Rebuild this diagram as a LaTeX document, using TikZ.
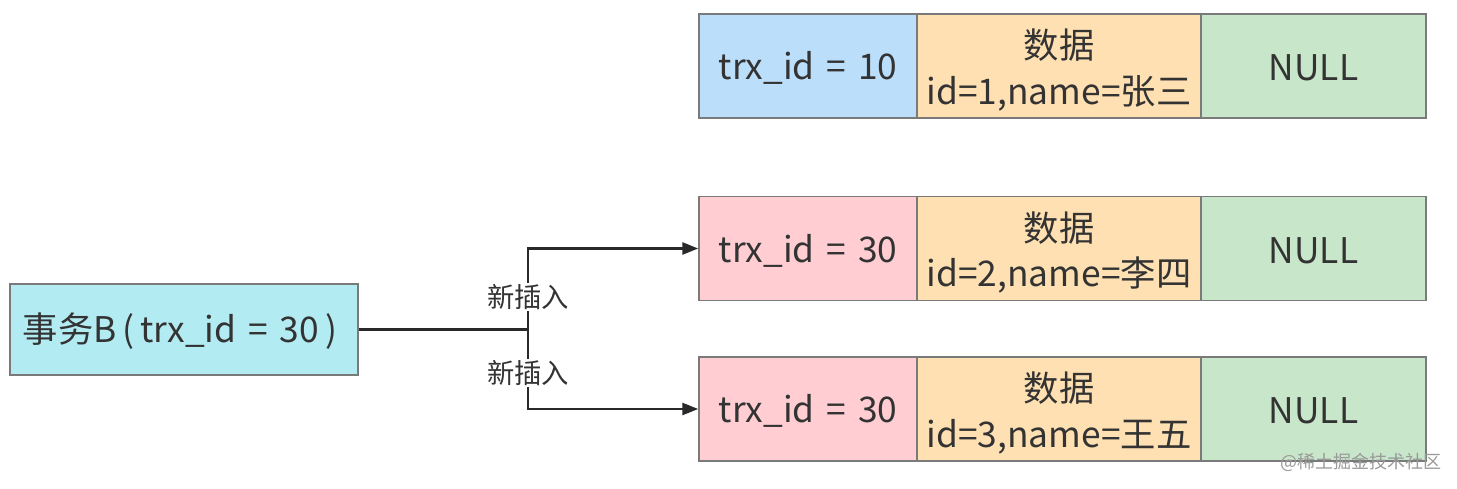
\documentclass[tikz,border=0pt]{standalone}
\usepackage{fontspec}
\setmainfont[WordSpace=1.5]{Noto Sans CJK SC}
\usetikzlibrary{arrows.meta}
\definecolor{txt}{HTML}{333333}
\definecolor{bd}{HTML}{7A7A7A}
\definecolor{cblue}{HTML}{BBDEFB}
\definecolor{corange}{HTML}{FFE0B2}
\definecolor{cgreen}{HTML}{C8E6C9}
\definecolor{cpink}{HTML}{FFCDD2}
\definecolor{ccyan}{HTML}{B2EBF2}
\tikzset{
  celltext/.style={text=txt, font=\fontsize{26.5}{34}\selectfont, align=center, inner sep=0pt, yshift=-1.5pt},
  cell/.style={draw=bd, line width=1.1pt, inner sep=0pt, minimum height=78pt},
  idcell/.style={cell, minimum width=163.5pt},
  datacell/.style={cell, minimum width=213pt, fill=corange},
  nullcell/.style={cell, minimum width=168.75pt, fill=cgreen},
  conn/.style={draw=txt!80!black, line width=2pt},
  arr/.style={conn, -{Triangle[length=12pt,width=9pt]}},
  lbl/.style={font=\fontsize{20.5}{24}\selectfont, text=txt, fill=white, inner sep=1pt},
}
\begin{document}
\begin{tikzpicture}[x=0.75pt,y=-0.75pt]
\useasboundingbox (0,0) rectangle (1457,489);
% row 1
\node[idcell, fill=cblue, label={[celltext]center:trx\_id = 10}] (r1a) at (808,66) {};
\node[datacell, label={[celltext, yshift=-1.5pt]center:数据\\id=1,name=张三}] (r1b) at (1059,66) {};
\node[nullcell, label={[celltext]center:NULL}] (r1c) at (1313.5,66) {};
% row 2
\node[idcell, fill=cpink, label={[celltext]center:trx\_id = 30}] (r2a) at (808,248.5) {};
\node[datacell, label={[celltext, yshift=-1.5pt]center:数据\\id=2,name=李四}] (r2b) at (1059,248.5) {};
\node[nullcell, label={[celltext]center:NULL}] (r2c) at (1313.5,248.5) {};
% row 3
\node[idcell, fill=cpink, label={[celltext]center:trx\_id = 30}] (r3a) at (808,409) {};
\node[datacell, label={[celltext, yshift=-1.5pt]center:数据\\id=3,name=王五}] (r3b) at (1059,409) {};
\node[nullcell, label={[celltext]center:NULL}] (r3c) at (1313.5,409) {};
% transaction
\node[cell, fill=ccyan, minimum width=261pt, minimum height=68.25pt,
  label={[celltext, xshift=-3pt]center:事务B\,(\,trx\_id = 30\,)}] (tb) at (184,329.5) {};
\coordinate (j) at (528,329.5);
\draw[conn] (tb.east) -- (j);
\draw[arr] (j) |- (r2a.west);
\draw[arr] (j) |- (r3a.west);
\node[lbl] (l1) at (528,297) {新插入};
\node[lbl] (l2) at (528,373) {新插入};
% watermark
\node[font=\fontsize{13.5}{15}\selectfont, text=black!40, inner sep=0pt] (wm) at (1361,462) {@稀土掘金技术社区};
\end{tikzpicture}
\end{document}
